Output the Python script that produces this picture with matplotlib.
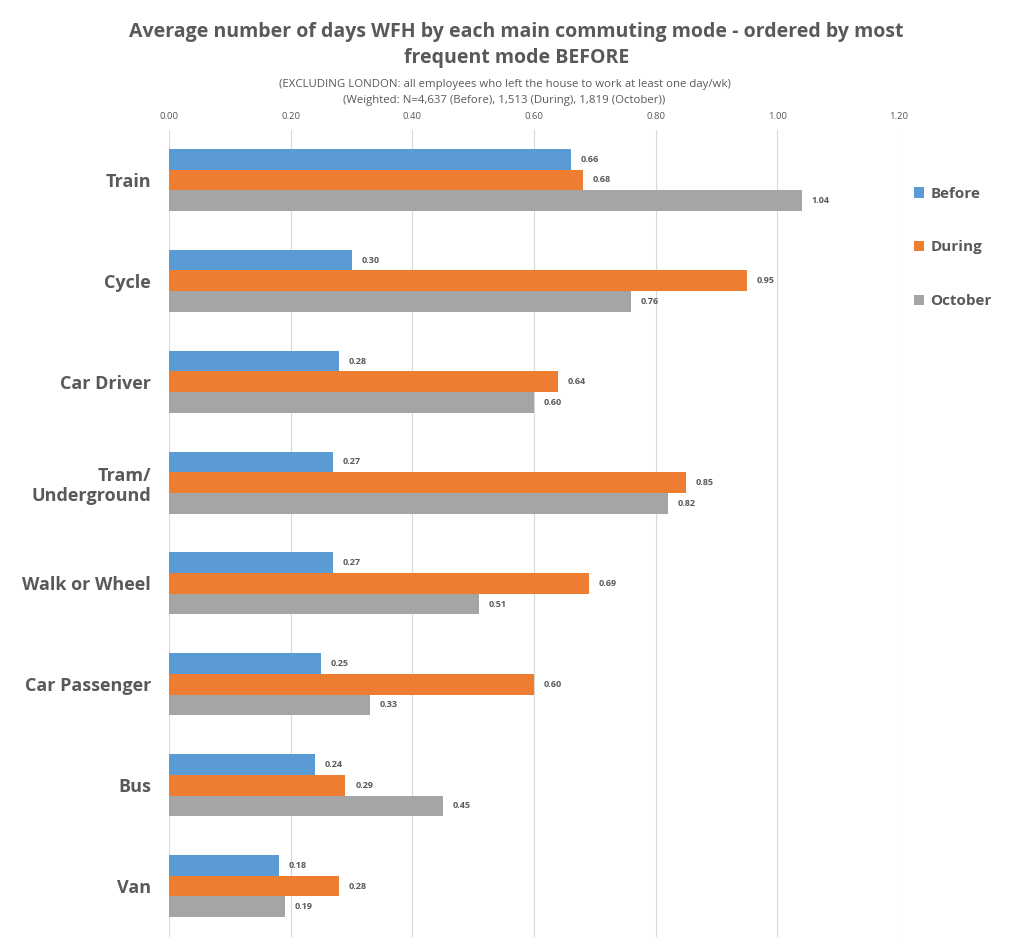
import matplotlib
matplotlib.use("Agg")
import matplotlib.pyplot as plt
import numpy as np

categories = ["Train", "Cycle", "Car Driver", "Tram/\nUnderground", "Walk or Wheel",
              "Car Passenger", "Bus", "Van"]
before = [0.66, 0.30, 0.28, 0.27, 0.27, 0.25, 0.24, 0.18]
during = [0.68, 0.95, 0.64, 0.85, 0.69, 0.60, 0.29, 0.28]
october = [1.04, 0.76, 0.60, 0.82, 0.51, 0.33, 0.45, 0.19]
series_names = ["Before", "During", "October"]
colors = ["#5B9BD5", "#ED7D31", "#A5A5A5"]
xticks = [0.0, 0.2, 0.4, 0.6, 0.8, 1.0, 1.2]

plt.rcParams['font.family'] = ['Open Sans', 'DejaVu Sans']
txt = "#595959"

fig = plt.figure(figsize=(10.09, 9.39), dpi=100)
ax = fig.add_axes([169/1009, 1-936.5/939, (899-169)/1009, (936.5-129.5)/939])

y = np.arange(len(categories))
h = 0.205
for i, (vals, name, c) in enumerate(zip([before, during, october], series_names, colors)):
    pos = y + (i - 1) * h
    ax.barh(pos, vals, height=h, color=c, label=name, zorder=3)
    for p, v in zip(pos, vals):
        ax.text(v + 0.016, p, f"{v:.2f}", va="center", ha="left", fontsize=6.5,
                fontweight="bold", color=txt)

ax.set_ylim(len(categories) - 0.5, -0.5)
ax.set_xlim(0, 1.2)
ax.set_xticks(xticks)
ax.set_xticklabels([f"{t:.2f}" for t in xticks], fontsize=6.8, color=txt)
ax.xaxis.tick_top()
ax.tick_params(axis="x", length=0, pad=6)
ax.set_yticks(y)
ax.set_yticklabels(categories, fontsize=13, fontweight="bold", color=txt)
ax.tick_params(axis="y", length=0, pad=13)
ax.grid(axis="x", color="#D9D9D9", linewidth=0.8, zorder=0)
for s in ax.spines.values():
    s.set_visible(False)

fig.text(0.512, 1-32/939, "Average number of days WFH by each main commuting mode - ordered by most",
         ha="center", va="center", fontsize=14, fontweight="bold", color=txt)
fig.text(0.512, 1-58/939, "frequent mode BEFORE",
         ha="center", va="center", fontsize=14, fontweight="bold", color=txt)
fig.text(0.5, 1-84/939, "(EXCLUDING LONDON: all employees who left the house to work at least one day/wk)",
         ha="center", va="center", fontsize=8.2, color=txt)
fig.text(0.5, 1-100/939, "(Weighted: N=4,637 (Before), 1,513 (During), 1,819 (October))",
         ha="center", va="center", fontsize=8.2, color=txt)

fig.legend(loc="upper left", bbox_to_anchor=(900/1009, 1-173/939), frameon=False,
           labelspacing=2.6, handlelength=0.7, handleheight=0.7,
           handletextpad=0.4, labelcolor=txt, prop={'weight': 'bold', 'size': 11})

fig.savefig("out.png", dpi=100, facecolor="white")
